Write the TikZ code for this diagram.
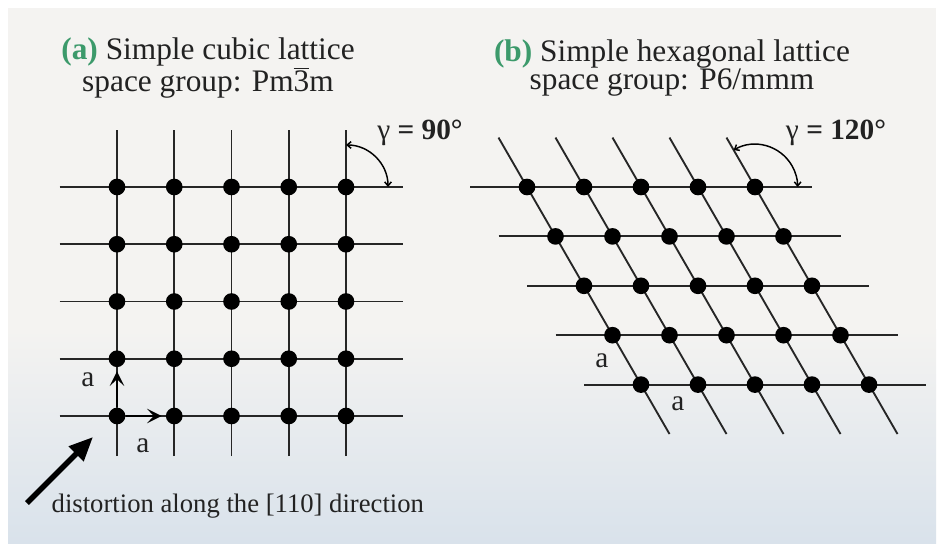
\documentclass[tikz,border=0pt]{standalone}
\usepackage{fontspec}
\setmainfont{Liberation Serif}
\usetikzlibrary{arrows.meta,positioning,calc}
\definecolor{labgreen}{HTML}{3C9A6B}
\definecolor{panetop}{HTML}{F4F3F1}
\definecolor{panebot}{HTML}{D9E2EB}
\definecolor{inkgrey}{HTML}{222222}

\begin{document}
\begin{tikzpicture}[
  x=0.75pt, y=-0.75pt,
  dot/.style={circle, fill=black, inner sep=0pt, minimum size=12.5pt},
  latline/.style={line width=1.4pt, draw=black!85},
  vec/.style={-{Stealth[length=11pt, width=11pt, inset=5pt]}, line width=1.4pt, shorten >=3pt},
  bigarrow/.style={-{Triangle[length=18pt, width=15pt]}, line width=4pt},
  angarc/.style={{Straight Barb[length=3pt, width=5pt]}-{Straight Barb[length=3pt, width=5pt]}, line width=1.1pt},
  title/.style={align=center, font=\fontsize{23.5}{19}\selectfont, text=inkgrey},
  lbl/.style={font=\fontsize{22}{24}\selectfont, text=inkgrey}
]
% background panel
\useasboundingbox (0,0) rectangle (940,549);
\fill[white] (0,0) rectangle (940,549);
\fill[panetop] (8,8) rectangle (936,330);
\shade[top color=panetop, bottom color=panebot] (8,330) rectangle (936,543);

% (a) simple cubic
\begin{scope}[shift={(117,416)}, x={(42.94pt,0pt)}, y={(0pt,42.94pt)}]
  \foreach \i in {0,...,4}{
    \coordinate (cb\i) at (\i,-0.7);
    \coordinate (ct\i) at (\i,5);
    \draw[latline] (cb\i) -- (ct\i);
  }
  \foreach \j in {0,...,4}{
    \coordinate (cl\j) at (-1,\j);
    \coordinate (cr\j) at (5,\j);
    \draw[latline] (cl\j) -- (cr\j);
  }
  \foreach \i in {0,...,4}
    \foreach \j in {0,...,4}
      \node[dot] (c\i\j) at (\i,\j) {};
\end{scope}

% (b) simple hexagonal
\begin{scope}[shift={(527,187)}, x={(42.75pt,0pt)}, y={(21.375pt,-37.05pt)}]
  \foreach \j in {0,...,4}{
    \coordinate (hl\j) at (-1,\j);
    \coordinate (hr\j) at (5,\j);
    \draw[latline] (hl\j) -- (hr\j);
  }
  \foreach \i in {0,...,4}{
    \coordinate (ht\i) at (\i,-1);
    \coordinate (hb\i) at (\i,5);
    \draw[latline] (ht\i) -- (hb\i);
  }
  \foreach \i in {0,...,4}
    \foreach \j in {0,...,4}
      \node[dot] (h\i\j) at (\i,\j) {};
\end{scope}

% titles
\node[title] (ta) at (208,68) {\textcolor{labgreen}{\textbf{(a)}} Simple cubic lattice\\space group: Pm$\overline{\mbox{3}}$m};
\node[title] (tb) at (672,68) {\textcolor{labgreen}{\textbf{(b)}} Simple hexagonal lattice\\space group: P6/mmm};

% angles
\draw[angarc] ($(c44)+(90:31.5pt)$) arc[start angle=90, end angle=0, radius=31.5pt];
\node[lbl] (gcub) at (420,133) {γ \textbf{= 90°}};
\draw[angarc] ($(h40)+(120:32pt)$) arc[start angle=120, end angle=0, radius=32pt];
\node[lbl] (ghex) at (836,133) {γ \textbf{= 120°}};

% lattice vectors
\draw[vec] (c00) -- (c01);
\draw[vec] (c00) -- (c10);
\node[lbl] (ac1) at (88,380) {a};
\node[lbl] (ac2) at (143,446) {a};
\node[lbl] (ah1) at (602,361) {a};
\node[lbl] (ah2) at (678,404) {a};

% distortion
\coordinate (dtail) at (27,503);
\coordinate (dtip) at (93,437);
\draw[bigarrow] (dtail) -- (dtip);
\node[lbl, anchor=base west, font=\fontsize{20}{22}\selectfont] (dtext) at (47,512) {distortion along the [110] direction};
\end{tikzpicture}
\end{document}
